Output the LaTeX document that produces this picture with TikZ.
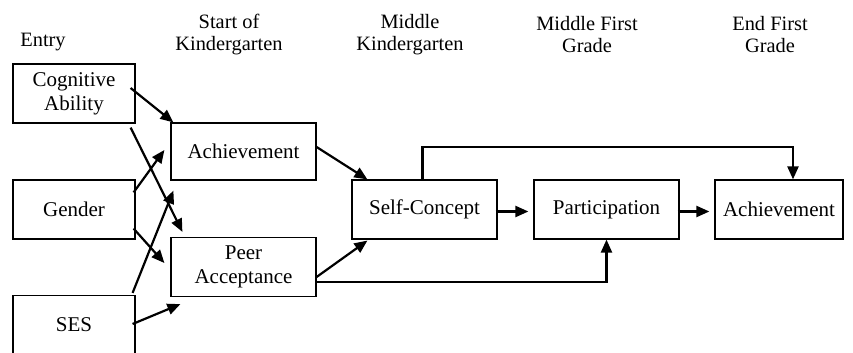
\documentclass[tikz,border=0pt]{standalone}
\usepackage{fontspec}
\setmainfont{Liberation Serif}
\usetikzlibrary{arrows.meta}

\begin{document}
\begin{tikzpicture}[x=0.5pt,y=-0.5pt,
  kasten/.style={draw,line width=0.6pt,inner sep=0pt,minimum height=29.5pt,
    align=center,font=\fontsize{10.5}{12}\selectfont},
  pfeil/.style={line width=1.1pt,-{Triangle[length=6.5pt,width=5.5pt]}},
  kopf/.style={align=center,font=\fontsize{10.2}{11}\selectfont}]
  % Rahmen
  \clip (0,0) rectangle (853,353);

  % Zeitpunkte
  \node[kopf] (tEntry) at (43,42) {Entry};
  \node[kopf] (tStart) at (229,35) {Start of\\Kindergarten};
  \node[kopf] (tMitte) at (410,35) {Middle\\Kindergarten};
  \node[kopf] (tErste) at (587,35) {Middle First\\Grade};
  \node[kopf] (tEnde) at (770,35) {End First\\Grade};

  % Kaesten
  \node[kasten,minimum width=61pt] (cog) at (74,93.5) {Cognitive\\Ability};
  \node[kasten,minimum width=61pt] (gen) at (74,209.5) {Gender};
  \node[kasten,minimum width=61pt] (ses) at (74,325) {SES};
  \node[kasten,minimum width=72.5pt,minimum height=28.5pt] (achA) at (243.5,151.5) {Achievement};
  \node[kasten,minimum width=72.5pt] (peer) at (243.5,267) {Peer\\Acceptance};
  \node[kasten,minimum width=72.5pt] (self) at (424.5,209.5) {Self-Concept};
  \node[kasten,minimum width=72.5pt] (part) at (606.5,209.5) {Participation};
  \node[kasten,minimum width=64pt] (achB) at (779,209.5) {Achievement};

  % Pfade links
  \draw[pfeil] ([shift={(-5,-5.5)}]cog.east) -- ([shift={(3,0)}]achA.north west);
  \draw[pfeil] ([shift={(-5,4)}]cog.south east) -- ([shift={(12,-5)}]peer.north west);
  \draw[pfeil] ([shift={(-2,13)}]gen.north east) -- ([shift={(-6,-1.5)}]achA.west);
  \draw[pfeil] ([shift={(-2,-11)}]gen.south east) -- ([shift={(-6,-4)}]peer.west);
  \draw[pfeil] ([shift={(-3,-2)}]ses.north east) -- ([shift={(3,10)}]achA.south west);
  \draw[pfeil] ([shift={(-3,-1)}]ses.east) -- ([shift={(10,7)}]peer.south west);

  % Pfade rechts
  \draw[pfeil] ([shift={(0,-4.5)}]achA.east) -- ([shift={(16,0)}]self.north west);
  \draw[pfeil] ([shift={(0,10)}]peer.east) -- ([shift={(16,1)}]self.south west);
  \draw[pfeil] ([shift={(0,15)}]peer.east) -| (part.south);
  \draw[pfeil] ([shift={(-2,2)}]self.east) -- ([shift={(-5,2)}]part.west);
  \draw[pfeil] ([shift={(-2,2)}]part.east) -- ([shift={(-5,2)}]achB.west);
  \draw[pfeil] ([shift={(-2,0)}]self.north) -- ++(0,-32) -| ([shift={(14,0)}]achB.north);

\end{tikzpicture}
\end{document}
